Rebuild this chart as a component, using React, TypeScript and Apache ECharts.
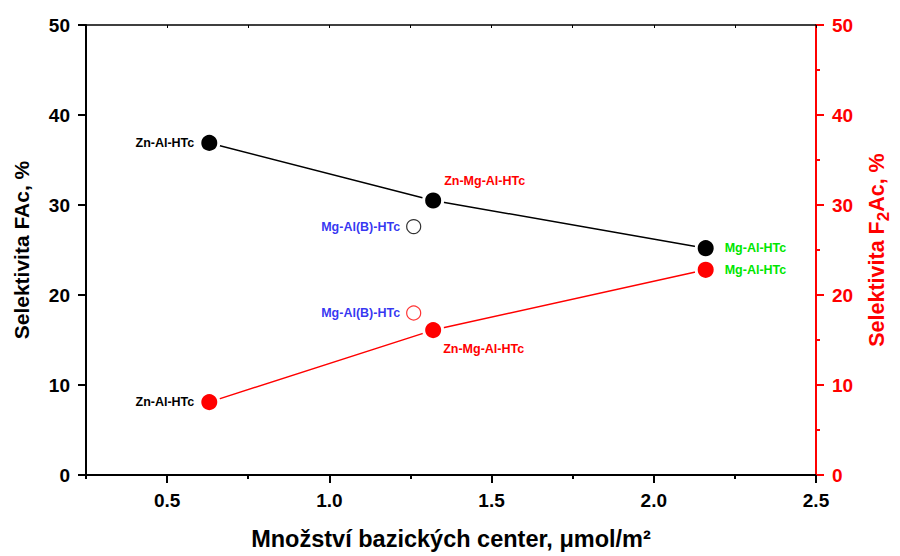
import React, { useEffect, useRef } from "react";
import * as echarts from "echarts";

const samples = ["Zn-Al-HTc", "Zn-Mg-Al-HTc", "Mg-Al-HTc"];
const sampleLabelColors = ["#000000", "#ff0000", "#00e600"];
const basicSites = [0.63, 1.32, 2.16];
const selectivityFAc = [36.9, 30.5, 25.2];
const selectivityF2Ac = [8.1, 16.1, 22.8];

const mgAlBName = "Mg-Al(B)-HTc";
const mgAlBSites = [1.26];
const mgAlBFAc = [27.6];
const mgAlBF2Ac = [18.0];

const majorXTicks = [0.5, 1.0, 1.5, 2.0, 2.5];
const minorXTicks = [0.25, 0.75, 1.25, 1.75, 2.25];

const FONT = "Arial, 'Liberation Sans', sans-serif";

const fAcLabelPlacement: any[] = [
  { position: "left", distance: 4 },
  { position: "inside", align: "left", offset: [11, -20] },
  { position: "right", distance: 8 },
];
const f2AcLabelPlacement: any[] = [
  { position: "left", distance: 4 },
  { position: "inside", align: "left", offset: [10, 19] },
  { position: "right", distance: 8 },
];

export default function App() {
  const ref = useRef<HTMLDivElement>(null);
  useEffect(() => {
    if (!ref.current) return;
    const chart = echarts.init(ref.current, undefined, { renderer: "svg" });
    const labelBase = { show: true, fontFamily: FONT, fontWeight: "bold", fontSize: 12.5 };
    const mkData = (ys: number[], placement: any[]) =>
      basicSites.map((x, i) => ({
        value: [x, ys[i]],
        name: samples[i],
        label: { ...labelBase, ...placement[i], color: sampleLabelColors[i], formatter: samples[i] },
      }));
    const option: any = {
      animation: false,
      backgroundColor: "#ffffff",
      grid: { left: 86, right: 78, top: 25, bottom: 76 },
      xAxis: [
        {
          type: "value",
          position: "bottom",
          min: 0.25,
          max: 2.5,
          interval: 0.25,
          name: "Množství bazických center, μmol/m²",
          nameLocation: "middle",
          nameGap: 52,
          nameTextStyle: { fontFamily: FONT, fontWeight: "bold", fontSize: 23.5, color: "#000" },
          axisLine: { show: true, lineStyle: { color: "#000", width: 2 } },
          axisTick: { show: true, length: 8, lineStyle: { color: "#000", width: 2 }, customValues: majorXTicks },
          axisLabel: {
            fontFamily: FONT,
            fontWeight: "bold",
            fontSize: 19,
            color: "#000",
            margin: 16,
            customValues: majorXTicks,
            formatter: (v: number) => v.toFixed(1),
          },
          splitLine: { show: false },
        },
        {
          type: "value",
          position: "bottom",
          min: 0.25,
          max: 2.5,
          interval: 0.25,
          axisLine: { show: false },
          axisTick: { show: true, length: 4, lineStyle: { color: "#000", width: 2 }, customValues: minorXTicks },
          axisLabel: { show: false },
          splitLine: { show: false },
        },
        {
          type: "value",
          position: "top",
          min: 0.25,
          max: 2.5,
          interval: 0.25,
          axisLine: { show: true, lineStyle: { color: "#000", width: 1.5 } },
          axisTick: { show: true, inside: true, length: 3, lineStyle: { color: "#000", width: 1 } },
          axisLabel: { show: false },
          splitLine: { show: false },
        },
      ],
      yAxis: [
        {
          type: "value",
          position: "left",
          min: 0,
          max: 50,
          interval: 10,
          name: "Selektivita FAc, %",
          nameLocation: "middle",
          nameRotate: 90,
          nameGap: 54,
          nameTextStyle: { fontFamily: FONT, fontWeight: "bold", fontSize: 21, color: "#000" },
          axisLine: { show: true, lineStyle: { color: "#000", width: 2 } },
          axisTick: { show: true, length: 8, lineStyle: { color: "#000", width: 2 } },
          axisLabel: { fontFamily: FONT, fontWeight: "bold", fontSize: 19, color: "#000", margin: 16 },
          splitLine: { show: false },
        },
        {
          type: "value",
          position: "right",
          min: 0,
          max: 50,
          interval: 10,
          name: "{a|Selektivita F}{s|2}{a|Ac, %}",
          nameLocation: "middle",
          nameRotate: 90,
          nameGap: 46,
          nameTextStyle: {
            fontFamily: FONT,
            fontWeight: "bold",
            fontSize: 21.5,
            color: "#ff0000",
            rich: {
              a: { fontFamily: FONT, fontWeight: "bold", fontSize: 21.5, color: "#ff0000", lineHeight: 30, verticalAlign: "middle" },
              s: { fontFamily: FONT, fontWeight: "bold", fontSize: 17, color: "#ff0000", lineHeight: 30, verticalAlign: "bottom" },
            },
          },
          axisLine: { show: true, lineStyle: { color: "#ff0000", width: 2 } },
          axisTick: { show: true, length: 8, lineStyle: { color: "#ff0000", width: 2 } },
          minorTick: { show: true, splitNumber: 2, length: 4, lineStyle: { color: "#ff0000", width: 2 } },
          axisLabel: { fontFamily: FONT, fontWeight: "bold", fontSize: 19, color: "#ff0000", margin: 16 },
          splitLine: { show: false },
        },
      ],
      series: [
        {
          type: "line",
          xAxisIndex: 0,
          yAxisIndex: 0,
          symbol: "circle",
          symbolSize: 19,
          lineStyle: { color: "#000", width: 1.5 },
          itemStyle: { color: "#000", borderColor: "#fff", borderWidth: 3 },
          data: mkData(selectivityFAc, fAcLabelPlacement),
          z: 3,
        },
        {
          type: "line",
          xAxisIndex: 0,
          yAxisIndex: 1,
          symbol: "circle",
          symbolSize: 19,
          lineStyle: { color: "#ff0000", width: 1.5 },
          itemStyle: { color: "#ff0000", borderColor: "#fff", borderWidth: 3 },
          data: mkData(selectivityF2Ac, f2AcLabelPlacement),
          z: 3,
        },
        {
          type: "scatter",
          xAxisIndex: 0,
          yAxisIndex: 0,
          symbol: "circle",
          symbolSize: 14,
          itemStyle: { color: "#fff", borderColor: "#000", borderWidth: 1.2 },
          label: { ...labelBase, position: "left", distance: 6, color: "#0000ee", formatter: mgAlBName },
          data: mgAlBSites.map((x, i) => [x, mgAlBFAc[i]]),
        },
        {
          type: "scatter",
          xAxisIndex: 0,
          yAxisIndex: 1,
          symbol: "circle",
          symbolSize: 14,
          itemStyle: { color: "#fff", borderColor: "#ff0000", borderWidth: 1.2 },
          label: { ...labelBase, position: "left", distance: 6, color: "#0000ee", formatter: mgAlBName },
          data: mgAlBSites.map((x, i) => [x, mgAlBF2Ac[i]]),
        },
      ],
    };
    chart.setOption(option);
    return () => chart.dispose();
  }, []);
  return <div ref={ref} style={{ position: "absolute", left: 0, top: 0, width: 900, height: 556 }} />;
}
